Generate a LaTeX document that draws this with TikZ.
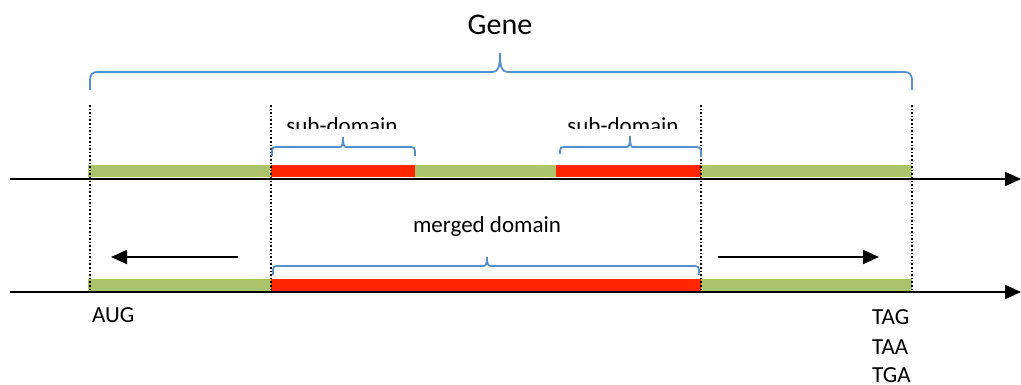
\documentclass[tikz,border=0pt]{standalone}
\usepackage{fontspec}
\setmainfont{Carlito}
\usetikzlibrary{arrows.meta}
\definecolor{bargreen}{RGB}{171,196,108}
\definecolor{barred}{RGB}{255,38,0}
\definecolor{braceblue}{RGB}{88,142,202}
\tikzset{
  axisline/.style={line width=2pt, -{Triangle[length=16pt,width=14pt]}},
  dirarrow/.style={line width=2pt, -{Triangle[length=16pt,width=14pt]}},
  guide/.style={line width=1.6pt, dotted},
  bracepath/.style={line width=1.8pt, braceblue},
  lbl/.style={inner sep=0pt, font=\fontsize{23}{27}\selectfont},
  greenbar/.style={fill=bargreen, draw=none},
  redbar/.style={fill=barred, draw=none}
}
\begin{document}
\begin{tikzpicture}[x=1pt,y=-1pt]
\useasboundingbox (0,0) rectangle (1021,385);
% axes
\coordinate (a1s) at (10,179);
\coordinate (a1e) at (1021,179);
\coordinate (a2s) at (10,292);
\coordinate (a2e) at (1021,292);
% bars row 1
\fill[greenbar] (88,165) rectangle (912,177);
\fill[redbar] (271,165) rectangle (415,177);
\fill[redbar] (556,165) rectangle (701,177);
% bars row 2
\fill[greenbar] (88,279) rectangle (912,291);
\fill[redbar] (271,279) rectangle (701,291);
\draw[axisline] (a1s) -- (a1e);
\draw[axisline] (a2s) -- (a2e);
% dotted guides
\foreach \x/\n in {90/g1,271/g2,701/g3,912/g4}{
  \coordinate (\n t) at (\x,105);
  \coordinate (\n b) at (\x,290);
  \draw[guide] (\n t) -- (\n b);
}
% Gene brace
\draw[bracepath] (90,90) -- (90,82) .. controls (90,74) and (92,72) .. (98,72) -- (492,72)
  .. controls (498,72) and (500,68) .. (500,53) .. controls (500,68) and (502,72) .. (508,72)
  -- (904,72) .. controls (910,72) and (912,74) .. (912,82) -- (912,90);
\node[lbl, font=\fontsize{30}{34}\selectfont] (gene) at (500,25) {Gene};
% sub-domain braces
\draw[bracepath] (272,156) -- (272,151) .. controls (272,148) and (273,147) .. (276,147) -- (340,147)
  .. controls (342,147) and (343,145) .. (343,137) .. controls (343,145) and (344,147) .. (346,147)
  -- (411,147) .. controls (414,147) and (415,148) .. (415,151) -- (415,156);
\draw[bracepath] (560,154) -- (560,151) .. controls (560,148) and (561,147) .. (564,147) -- (627,147)
  .. controls (629,147) and (630,145) .. (630,136) .. controls (630,145) and (631,147) .. (633,147)
  -- (697,147) .. controls (700,147) and (701,148) .. (701,151) -- (701,157);
\begin{scope}
\clip (0,0) rectangle (1021,128.5);
\node[lbl] (sd1) at (342,126) {sub-domain};
\node[lbl] (sd2) at (623,126) {sub-domain};
\end{scope}
% merged brace
\draw[bracepath] (273,275) -- (273,270) .. controls (273,267) and (274,266) .. (277,266) -- (483,266)
  .. controls (486,266) and (487,264) .. (487,257) .. controls (487,264) and (488,266) .. (491,266)
  -- (695,266) .. controls (698,266) and (699,267) .. (699,270) -- (699,275);
\node[lbl] (md) at (487,226) {merged domain};
% direction arrows
\coordinate (la1) at (238,257);
\coordinate (la2) at (111,257);
\coordinate (ra1) at (718,257);
\coordinate (ra2) at (879,257);
\draw[dirarrow] (la1) -- (la2);
\draw[dirarrow] (ra1) -- (ra2);
% codon labels
\node[lbl, anchor=west] (aug) at (92,315) {AUG};
\node[lbl, anchor=west] (tag) at (872,317) {TAG};
\node[lbl, anchor=west] (taa) at (872,347) {TAA};
\node[lbl, anchor=west] (tga) at (872,375) {TGA};
\end{tikzpicture}
\end{document}
